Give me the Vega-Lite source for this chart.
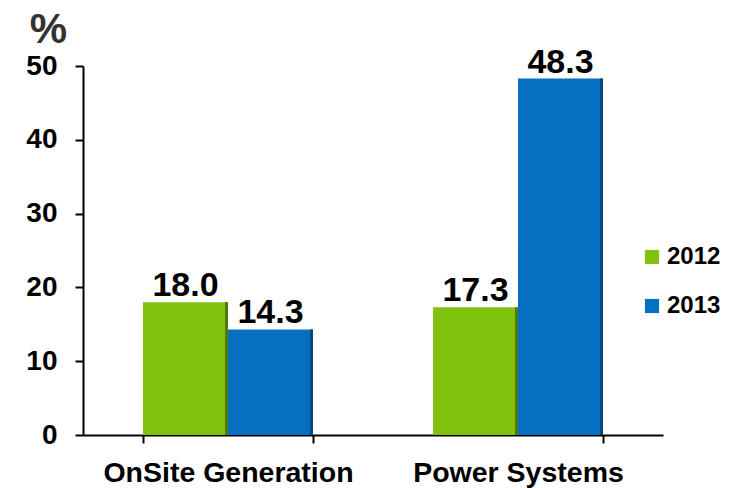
{
  "$schema": "https://vega.github.io/schema/vega-lite/v6.json",
  "width": 580,
  "height": 369,
  "autosize": "none",
  "padding": {"left": 83, "top": 66, "right": 74, "bottom": 53},
  "background": "white",
  "config": {
    "view": {"stroke": null},
    "font": "Liberation Sans"
  },
  "data": {
    "values": [
      {"segment": "OnSite Generation", "year": "2012", "value": 18.0},
      {"segment": "OnSite Generation", "year": "2013", "value": 14.3},
      {"segment": "Power Systems", "year": "2012", "value": 17.3},
      {"segment": "Power Systems", "year": "2013", "value": 48.3}
    ]
  },
  "resolve": {"scale": {"xOffset": "independent"}},
  "encoding": {
    "x": {
      "field": "segment",
      "type": "nominal",
      "sort": null,
      "scale": {"paddingInner": 0.414, "paddingOuter": 0.207},
      "axis": {
        "title": null,
        "labelAngle": 0,
        "labelLimit": 0,
        "labelFont": "Liberation Sans",
        "labelFontWeight": "bold",
        "labelFontSize": 28.5,
        "labelColor": "black",
        "labelPadding": 15,
        "tickBand": "extent",
        "tickSize": 8,
        "tickColor": "black",
        "tickWidth": 2,
        "domainColor": "black",
        "domainWidth": 2
      }
    },
    "y": {
      "field": "value",
      "type": "quantitative",
      "scale": {"domain": [0, 50], "nice": false},
      "axis": {
        "title": "%",
        "titleAngle": 0,
        "titleAlign": "center",
        "titleBaseline": "alphabetic",
        "titleX": -35,
        "titleY": -24,
        "titleFont": "Liberation Sans",
        "titleFontSize": 42,
        "titleFontWeight": "bold",
        "titleColor": "#333333",
        "values": [0, 10, 20, 30, 40, 50],
        "grid": false,
        "labelFont": "Liberation Sans",
        "labelFontWeight": "bold",
        "labelFontSize": 28,
        "labelColor": "black",
        "labelPadding": 18,
        "tickSize": 8,
        "tickColor": "black",
        "tickWidth": 2,
        "domainColor": "black",
        "domainWidth": 2
      }
    }
  },
  "layer": [
    {
      "mark": {"type": "bar"},
      "encoding": {
        "xOffset": {"field": "year", "type": "nominal", "scale": {"paddingInner": 0, "paddingOuter": 0}},
        "color": {
          "field": "year",
          "type": "nominal",
          "scale": {"domain": ["2012", "2013"], "range": ["#80C20E", "#0570C0"]},
          "legend": {
            "title": null,
            "orient": "none",
            "legendX": 557,
            "legendY": 179,
            "symbolType": "square",
            "symbolSize": 200,
            "symbolStrokeWidth": 0,
            "rowPadding": 25,
            "labelFont": "Liberation Sans",
            "labelFontSize": 24,
            "labelFontWeight": "bold",
            "labelColor": "black",
            "labelOffset": 3
          }
        }
      }
    },
    {
      "mark": {"type": "rule", "strokeWidth": 3},
      "encoding": {
        "xOffset": {"field": "year", "type": "nominal", "scale": {"type": "point", "padding": 0, "range": [83.5, 168.5]}},
        "y": {"datum": 0},
        "y2": {"field": "value"},
        "stroke": {"field": "year", "type": "nominal", "scale": {"domain": ["2012", "2013"], "range": ["#4E7A0A", "#0B4679"]}, "legend": null}
      }
    },
    {
      "mark": {"type": "text", "baseline": "alphabetic", "dy": -6, "font": "Liberation Sans", "fontSize": 34, "fontWeight": "bold", "color": "black"},
      "encoding": {
        "xOffset": {"field": "year", "type": "nominal", "scale": {"type": "point", "padding": 0, "range": [42.5, 127.5]}},
        "text": {"field": "value", "type": "quantitative", "format": ".1f"}
      }
    }
  ]
}
